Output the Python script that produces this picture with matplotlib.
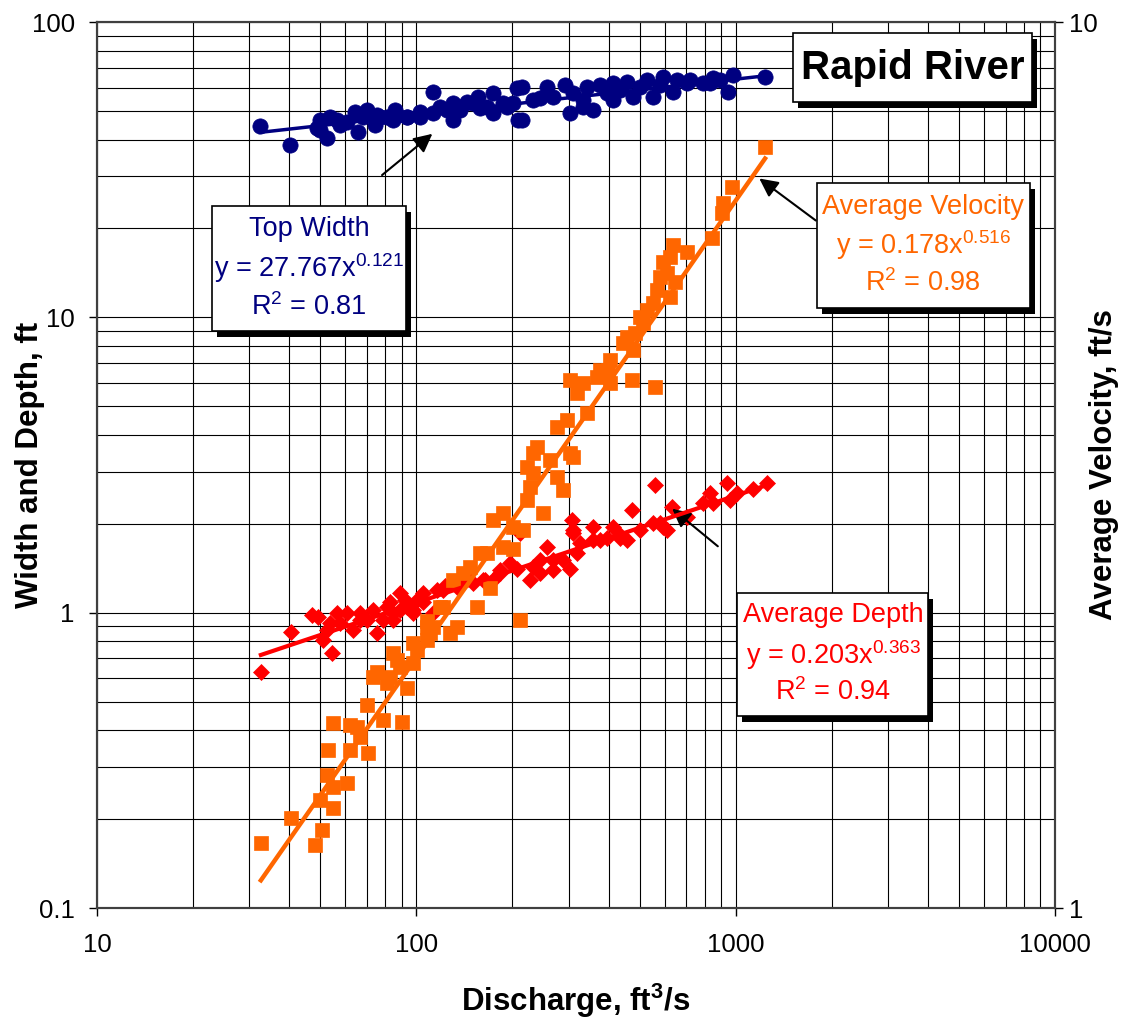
import numpy as np
import matplotlib
matplotlib.use('Agg')
import matplotlib.pyplot as plt
from matplotlib.patches import Rectangle
from matplotlib.ticker import LogLocator, NullFormatter, NullLocator

plt.rcParams['font.family'] = ['Liberation Sans', 'DejaVu Sans']
plt.rcParams['mathtext.fontset'] = 'custom'
plt.rcParams['mathtext.rm'] = 'Liberation Sans'
plt.rcParams['mathtext.bf'] = 'Liberation Sans:bold'

# top width (ft) vs discharge (ft3/s)
width_q = [32.4, 40.2, 48.9, 49.9, 52.5, 53.7, 57.7, 60.6, 64.3, 65.7, 70.1, 74.3,
           75.4, 81.0, 85.8, 87.1, 93.6, 102.8, 112.8, 118.6, 130.2, 130.2, 137.1,
           144.3, 156.1, 158.5, 173.8, 173.8, 192.3, 206.6, 208.2, 214.3, 214.3,
           243.8, 256.6, 292.2, 302.9, 332.6, 342.6, 357.4, 376, 413.3, 413.3,
           457.1, 477.5, 527.9, 551, 592.9, 637.4, 655.5, 719.8, 831.3, 849.7,
           946.6, 981.8, 1236,
           49.9, 56.4, 68.1, 76.9, 84.5, 93.6, 102.8, 112.8, 124.8, 137.1, 150.6,
           166.5, 186.8, 200.8, 232, 268, 309.6, 332.6, 395, 434, 502, 580, 705,
           791, 893]
width_ft = [44.4, 38.3, 43.8, 46.6, 40.5, 47.6, 44.8, 45.8, 49.5, 42.4, 50.3, 44.8,
            48.4, 47.6, 50.3, 48.4, 47.6, 49.5, 58.0, 51.5, 46.6, 53.2, 50.3,
            53.6, 55.7, 51.1, 57.5, 49.2, 51.5, 59.8, 46.6, 60.2, 46.6,
            55.3, 60.2, 61.2, 49.2, 51.5, 60.2, 50.3, 61.2, 62.1, 54.4,
            62.6, 55.7, 63.6, 55.7, 65.1, 58.0, 63.6, 63.6, 62.1, 64.6,
            58.0, 66.1, 65.1,
            43.1, 46.6, 47.6, 47.6, 46.6, 47.6, 47.6, 49.2, 50.3, 51.5, 53.2,
            51.5, 53.2, 53.2, 54.4, 55.7, 57.5, 54.4, 57.5, 58.8, 60.2, 61.2, 62.1,
            62.1, 63.6]

# average depth (ft)
depth_q = [32.6, 40.5, 49.2, 51.0, 54.5, 53.7, 57.7, 60.7, 66.7, 63.4, 73.1, 75.3,
           80.9, 88.9, 97.7, 88.9, 84.5, 97.7, 105.0, 116.1, 112.8, 134.2, 150.6,
           173.8, 196.4, 211.2, 227, 231.9, 256.6, 267.9, 288, 307.4, 318.7,
           357.4, 325.6, 413.3, 457, 474, 559, 580, 610, 632, 705, 832, 850, 940,
           960, 1253, 66.7, 82.6, 92, 123, 141.9, 164, 182.9, 243.8, 376, 434,
           47.1, 52.5, 56.4, 70.1, 78.6, 84.5, 93.6, 105, 100.4, 121.2, 140,
           161.7, 182.9, 206.6, 243.8, 267.9, 302.9, 309.6, 309.6, 357.4, 395,
           434, 502, 551, 592.5, 791, 1010, 1134]
depth_ft = [0.63, 0.86, 0.966, 0.808, 0.73, 0.923, 0.923, 1.0, 1.0, 0.873, 1.02, 0.853,
            1.045, 1.02, 1.02, 1.165, 0.944, 1.0, 1.165, 1.19, 1.0, 1.22, 1.26,
            1.29, 1.47, 1.86, 1.29, 1.43, 1.67, 1.39, 1.51, 2.06, 1.59,
            1.95, 1.72, 1.95, 1.76, 2.23, 2.70, 2.01, 1.91, 2.28, 2.11, 2.54, 2.35, 2.75,
            2.41, 2.75, 0.944, 1.09, 1.1, 1.23, 1.34, 1.29, 1.39, 1.51, 1.76, 1.83,
            0.98, 0.873, 1.0, 0.944, 0.944, 1.0, 1.045, 1.09, 1.1, 1.19, 1.26,
            1.29, 1.36, 1.41, 1.36, 1.51, 1.41, 1.91, 1.86, 1.76, 1.79,
            1.79, 1.91, 2.01, 1.95, 2.35, 2.54, 2.62]

# average velocity (ft/s), right axis
vel_q = [32.6, 40.5, 48.2, 50.7, 49.9, 54.8, 52.5, 60.7, 52.9, 54.8, 62.0, 66.6,
         70.6, 70.1, 78.6, 90.2, 75.3, 80.9, 87.0, 93.6, 97.7, 108.0, 112.8, 84.5,
         97.7, 110.4, 127.5, 121.2, 134.2, 154.9, 130.2, 147.2, 166.5, 170.2,
         186.8, 186.8, 200.8, 211.3, 215.9, 222.2, 232.1, 238.8, 222.2, 249.4,
         262.3, 275.9, 288.0, 275.9, 302.9, 318.7, 302.9, 342.4, 296.5, 309.6,
         404.3, 473.7, 559.4, 368.1, 398.5, 477.2, 443.9, 484.2, 512.9, 527.9,
         623.3, 567.5, 645.7, 609.5, 592.5, 704.5, 636.8, 843.5, 906.6, 913,
         974.3, 1236,
         54.8, 62.0, 65.2, 73.1, 82.7, 88.9, 100.4, 108, 232.1, 227, 200.8, 173.8,
         158.5, 140, 118.6, 108, 580, 623, 551, 502, 457, 404, 376, 332.6]
vel_fps = [1.184, 1.264, 1.178, 1.225, 1.324, 1.297, 1.413, 1.384, 1.508, 1.618, 1.609, 1.56,
           1.496, 1.695, 1.63, 1.622, 1.846, 1.794, 1.905, 1.77, 1.89, 2.006, 2.075, 1.94,
           1.99, 2.044, 2.044, 2.186, 2.075, 2.186, 2.345, 2.426, 2.516, 2.30,
           2.555, 2.79, 2.54, 2.113, 2.67, 2.887, 3.097, 3.313, 3.146, 2.79,
           3.204, 3.065, 2.963, 3.49, 3.263, 3.813, 3.944, 3.62, 3.554, 3.228,
           3.913, 3.944, 3.873, 3.98, 4.05, 4.26, 4.34, 4.46, 4.57, 4.73,
           4.89, 4.98, 5.09, 5.21, 5.36, 5.50, 5.60, 5.70, 6.09, 6.25,
           6.51, 7.22,
           1.37, 1.508, 1.601, 1.822, 1.822, 1.87, 1.955, 2.075, 3.263, 2.99, 2.69, 2.74,
           2.516, 2.39, 2.186, 2.11, 5.15, 5.43, 4.82, 4.65, 4.41, 4.15, 4.05, 3.91]

# power-law trendlines y = a x^b shown on the chart
width_fit = (27.767, 0.121)
depth_fit = (0.203, 0.363)
vel_fit = (0.178, 0.516)

NAVY = '#000080'
RED = '#FF0000'
ORANGE = '#FF6600'
W, H = 1124, 1021

fig = plt.figure(figsize=(11.24, 10.21), dpi=100)
ax = fig.add_axes([97 / W, 1 - 908 / H, 958 / W, 886 / H])
ax.set_xscale('log')
ax.set_yscale('log')
ax.set_xlim(10, 10000)
ax.set_ylim(0.1, 100)
ax.set_xticks([10, 100, 1000, 10000])
ax.set_xticklabels(['10', '100', '1000', '10000'])
ax.set_yticks([0.1, 1, 10, 100])
ax.set_yticklabels(['0.1', '1', '10', '100'])
ax.xaxis.set_minor_locator(LogLocator(base=10, subs=np.arange(2, 10)))
ax.yaxis.set_minor_locator(LogLocator(base=10, subs=np.arange(2, 10)))
ax.xaxis.set_minor_formatter(NullFormatter())
ax.yaxis.set_minor_formatter(NullFormatter())
ax.grid(which='both', color='black', lw=0.8)
ax.set_axisbelow(True)
ax.tick_params(which='major', length=6, width=1, direction='out', labelsize=18.5)
ax.tick_params(axis='y', which='major', pad=10)
ax.tick_params(axis='x', which='major', pad=12)
ax.tick_params(which='minor', length=0)

ax2 = ax.twinx()
ax2.set_yscale('log')
ax2.set_ylim(1, 10)
ax2.set_yticks([1, 10])
ax2.set_yticklabels(['1', '10'])
ax2.yaxis.set_minor_locator(NullLocator())
ax2.tick_params(which='major', length=6, width=1, direction='out', labelsize=18.5, pad=4)

for a in (ax, ax2):
    for s in a.spines.values():
        s.set_color('#404040')
        s.set_linewidth(1.5)

# top width
ax.plot(width_q, width_ft, 'o', color=NAVY, ms=11, mew=0.5, zorder=3)
xq = np.linspace(min(width_q), max(width_q), 200)
ax.plot(xq, width_fit[0] * xq ** width_fit[1], color=NAVY, lw=2.5, zorder=4)

# depth
ax.plot(depth_q, depth_ft, 'D', color=RED, ms=8, mew=0.5, zorder=3)
xq = np.linspace(min(depth_q), max(depth_q), 200)
ax2.plot(xq, depth_fit[0] * xq ** depth_fit[1], color=RED, lw=3,
         transform=ax.transData, zorder=4)

# velocity
ax2.plot(vel_q, vel_fps, 's', color=ORANGE, ms=10.5, mew=0.5, zorder=3)
xq = np.linspace(min(vel_q), max(vel_q), 200)
ax2.plot(xq, vel_fit[0] * xq ** vel_fit[1], color=ORANGE, lw=3.2, zorder=4)
ax2.set_ylim(1, 10)

ax.set_xlabel('Discharge, ft$^{\\mathbf{3}}$/s', fontsize=22.5, fontweight='bold')
ax.xaxis.set_label_coords(0.5, -0.083)
ax.set_ylabel('Width and Depth, ft', fontsize=22.5, fontweight='bold')
ax.yaxis.set_label_coords(-0.054, 0.5)
ax2.set_ylabel('Average Velocity, ft/s', fontsize=22.5, fontweight='bold')
ax2.yaxis.set_label_coords(1.035, 0.5)

# arrows
arw = dict(arrowstyle='-|>', color='black', lw=1.5, mutation_scale=28)
ax2.annotate('', xy=(114, 42.4), xytext=(76.9, 29.9), xycoords=ax.transData,
             textcoords=ax.transData, arrowprops=arw)
ax2.annotate('', xy=(1167, 29.9), xytext=(1811, 21.0), xycoords=ax.transData,
             textcoords=ax.transData, arrowprops=arw)
ax2.annotate('', xy=(623, 2.28), xytext=(893, 1.655), xycoords=ax.transData,
             textcoords=ax.transData, arrowprops=arw)


def note_box(x0, y0, x1, y1):
    shadow = Rectangle(((x0 + 5) / W, 1 - (y1 + 6) / H), (x1 - x0) / W, (y1 - y0) / H,
                       transform=fig.transFigure, facecolor='black', edgecolor='none', zorder=5)
    box = Rectangle((x0 / W, 1 - y1 / H), (x1 - x0) / W, (y1 - y0) / H,
                    transform=fig.transFigure, facecolor='white', edgecolor='black',
                    lw=1.2, zorder=6)
    fig.add_artist(shadow)
    fig.add_artist(box)


def note_text(cx, cy, s, color, size=19.5, weight='normal'):
    fig.text(cx / W, 1 - cy / H, s, ha='center', va='center', color=color,
             fontsize=size, fontweight=weight, zorder=7)


note_box(793, 33, 1032, 102)
note_text(913, 68, 'Rapid River', 'black', size=29, weight='bold')

note_box(212, 206, 406, 331)
note_text(309, 229, 'Top Width', NAVY)
note_text(309, 268, 'y = 27.767x$^{\\mathrm{0.121}}$', NAVY)
note_text(309, 307, 'R$^{\\mathrm{2}}$ = 0.81', NAVY)

note_box(817, 183, 1030, 308)
note_text(923, 207, 'Average Velocity', ORANGE)
note_text(923, 245, 'y = 0.178x$^{\\mathrm{0.516}}$', ORANGE)
note_text(923, 283, 'R$^{\\mathrm{2}}$ = 0.98', ORANGE)

note_box(737, 593, 928, 716)
note_text(833, 615, 'Average Depth', RED)
note_text(833, 655, 'y = 0.203x$^{\\mathrm{0.363}}$', RED)
note_text(833, 692, 'R$^{\\mathrm{2}}$ = 0.94', RED)

fig.savefig('out.png', dpi=100)
